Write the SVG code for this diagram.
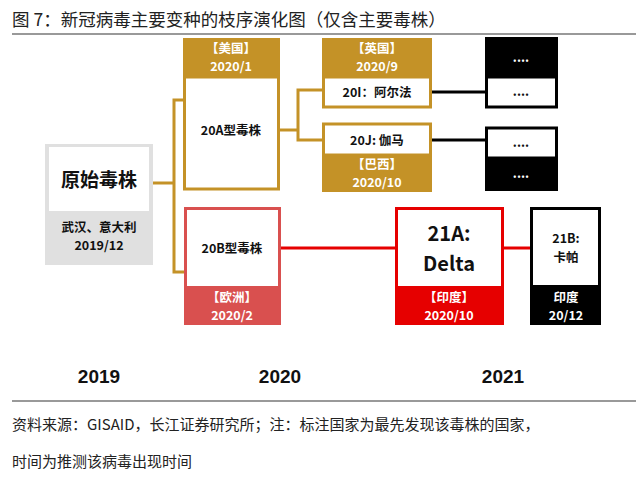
<svg xmlns="http://www.w3.org/2000/svg" width="640" height="486" viewBox="0 0 640 486">
<style>
text{font-family:"Noto Sans CJK SC","Noto Sans",sans-serif;text-anchor:middle}
.b{font-weight:bold}
.w{fill:#fff;font-weight:bold;font-size:12.5px}
.k{fill:#111;font-weight:bold;font-size:12.5px}
.g{fill:none;stroke:#c49227;stroke-width:3}
</style>
<rect width="640" height="486" fill="#fff"/>
<text x="12" y="26" style="text-anchor:start;font-size:17.5px" fill="#222">图 7：新冠病毒主要变种的枝序演化图（仅含主要毒株）</text>
<line x1="12" y1="34" x2="636" y2="34" stroke="#777" stroke-width="1.5"/>
<g id="connectors" fill="none">
<polyline class="g" points="153,183 174,183"/>
<polyline class="g" points="184,100 174,100 174,272 184,272"/>
<polyline class="g" points="280,130 298,130"/>
<polyline class="g" points="322,90 298,90 298,140 322,140"/>
<line x1="432" y1="92" x2="486" y2="92" stroke="#000" stroke-width="3"/>
<line x1="432" y1="140" x2="486" y2="140" stroke="#000" stroke-width="3"/>
<line x1="280" y1="248" x2="396" y2="248" stroke="#e60000" stroke-width="3"/>
<line x1="503" y1="248" x2="531" y2="248" stroke="#e60000" stroke-width="3"/>
</g>
<g id="orig">
<rect x="45" y="144" width="108" height="121" fill="#e0e0e0"/>
<rect x="49" y="147" width="100" height="64" fill="#fff"/>
<text x="99" y="187" class="b" font-size="19" fill="#111">原始毒株</text>
<text x="99" y="232" class="k">武汉、意大利</text>
<text x="99" y="250" class="k">2019/12</text>
</g>
<g id="n20A">
<rect x="183" y="38" width="97" height="40" fill="#c49227"/>
<rect x="184.5" y="77" width="94" height="112" fill="#fff" class="g"/>
<text x="231" y="53" class="w">【美国】</text>
<text x="231" y="71" class="w">2020/1</text>
<text x="231" y="135" class="k">20A型毒株</text>
</g>
<g id="n20I">
<rect x="322" y="38" width="110" height="40" fill="#c49227"/>
<rect x="323.5" y="77" width="107" height="30" fill="#fff" class="g"/>
<text x="377" y="53" class="w">【英国】</text>
<text x="377" y="71" class="w">2020/9</text>
<text x="377" y="97" class="k">20I：阿尔法</text>
</g>
<g id="n20J">
<rect x="322" y="154" width="110" height="38" fill="#c49227"/>
<rect x="323.5" y="124" width="107" height="31" fill="#fff" class="g"/>
<text x="377" y="145" class="k">20J: 伽马</text>
<text x="377" y="169" class="w">【巴西】</text>
<text x="377" y="187" class="w">2020/10</text>
</g>
<g id="n20Iplus">
<rect x="485" y="37" width="73" height="41" fill="#000"/>
<rect x="486.5" y="77" width="70" height="30" fill="#fff" stroke="#000" stroke-width="3"/>
<text x="521" y="62" class="w">....</text>
<text x="521" y="96" class="k">....</text>
</g>
<g id="n20Jplus">
<rect x="485" y="157" width="73" height="34" fill="#000"/>
<rect x="486.5" y="128" width="70" height="30" fill="#fff" stroke="#000" stroke-width="3"/>
<text x="521" y="147" class="k">....</text>
<text x="521" y="178" class="w">....</text>
</g>
<g id="n20B">
<rect x="184" y="287" width="97" height="38" fill="#d9504f"/>
<rect x="185.5" y="208.5" width="94" height="79" fill="#fff" stroke="#d9504f" stroke-width="3"/>
<text x="232" y="253" class="k">20B型毒株</text>
<text x="232" y="302" class="w">【欧洲】</text>
<text x="232" y="320" class="w">2020/2</text>
</g>
<g id="n21A">
<rect x="395" y="287" width="109" height="38" fill="#e60000"/>
<rect x="396.5" y="208.5" width="106" height="79" fill="#fff" stroke="#e60000" stroke-width="3"/>
<text x="449" y="241" class="b" font-size="20" fill="#111">21A:</text>
<text x="449" y="271" class="b" font-size="20" fill="#111">Delta</text>
<text x="449" y="302" class="w">【印度】</text>
<text x="449" y="320" class="w">2020/10</text>
</g>
<g id="n21B">
<rect x="530" y="286" width="71" height="39" fill="#000"/>
<rect x="531.5" y="208.5" width="68" height="78" fill="#fff" stroke="#000" stroke-width="3"/>
<text x="566" y="243" class="k">21B:</text>
<text x="566" y="262" class="k">卡帕</text>
<text x="566" y="302" class="w">印度</text>
<text x="566" y="320" class="w">20/12</text>
</g>
<g id="years" font-size="19" fill="#111">
<text x="99" y="383" class="b" style="font-family:'Liberation Sans',sans-serif">2019</text>
<text x="280" y="383" class="b" style="font-family:'Liberation Sans',sans-serif">2020</text>
<text x="503" y="383" class="b" style="font-family:'Liberation Sans',sans-serif">2021</text>
</g>
<line x1="12" y1="401" x2="636" y2="401" stroke="#777" stroke-width="1.5"/>
<text x="12" y="430" style="text-anchor:start;font-size:15px" fill="#222">资料来源：GISAID，长江证券研究所；注：标注国家为最先发现该毒株的国家，</text>
<text x="12" y="467" style="text-anchor:start;font-size:15px" fill="#222">时间为推测该病毒出现时间</text>
</svg>
